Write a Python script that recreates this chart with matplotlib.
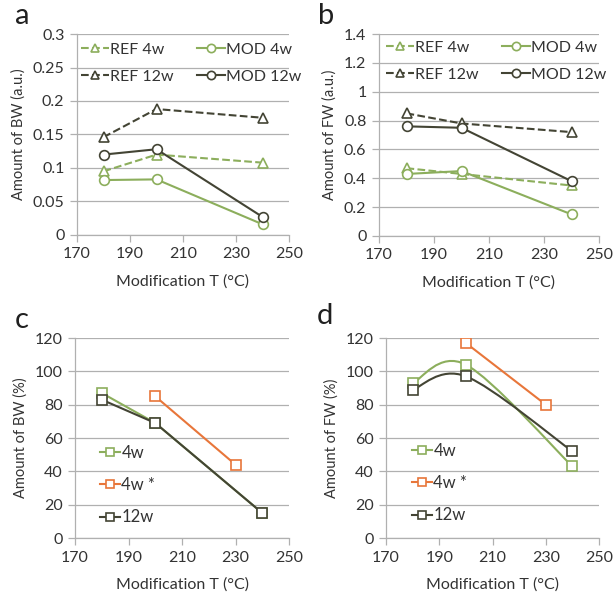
import numpy as np
import matplotlib.pyplot as plt
from matplotlib.path import Path
from matplotlib.patches import PathPatch
from matplotlib.ticker import FuncFormatter

plt.rcParams['font.family'] = ['Lato', 'DejaVu Sans']

# temperatures (°C)
t_main = [180, 200, 240]
t_star = [200, 230]

# a: bound water, a.u.
bw_ref4 = [0.095, 0.120, 0.108]
bw_mod4 = [0.082, 0.083, 0.016]
bw_ref12 = [0.146, 0.188, 0.175]
bw_mod12 = [0.120, 0.128, 0.027]

# b: free water, a.u.
fw_ref4 = [0.47, 0.43, 0.35]
fw_mod4 = [0.43, 0.45, 0.15]
fw_ref12 = [0.85, 0.78, 0.72]
fw_mod12 = [0.76, 0.75, 0.38]

# c: bound water, %
bw_pct4 = [87, 69, 15]
bw_pct4s = [85, 44]
bw_pct12 = [83, 69, 15]

# d: free water, %
fw_pct4 = [93, 104, 43]
fw_pct4s = [117, 80]
fw_pct12 = [89, 97, 52]

GREEN = '#8cae5c'
DARK = '#434434'
ORANGE = '#e8763a'
GRID = '#b0b0b0'
TXT = '#333333'
FS = 11.5

W, H = 613, 595
fig = plt.figure(figsize=(W / 100, H / 100), dpi=100)


def box(left, right, top, bottom):
    return [left / W, 1 - bottom / H, (right - left) / W, (bottom - top) / H]


def style(ax, ymax, ystep, ylabel):
    ax.set_xlim(170, 250)
    ax.set_xticks(np.arange(170, 251, 20))
    ax.set_ylim(0, ymax)
    ax.set_yticks(np.arange(0, ymax + ystep / 2, ystep))
    ax.yaxis.set_major_formatter(FuncFormatter(lambda v, p: '%g' % round(v, 3)))
    ax.grid(axis='y', color=GRID, lw=0.9)
    ax.set_axisbelow(True)
    for s in ['top', 'right']:
        ax.spines[s].set_visible(False)
    for s in ['left', 'bottom']:
        ax.spines[s].set_color(GRID)
        ax.spines[s].set_linewidth(0.9)
    ax.tick_params(direction='out', length=5, width=0.9, color=GRID,
                   labelsize=FS, labelcolor=TXT, pad=4)
    ax.set_xlabel('Modification T (°C)', fontsize=FS, color=TXT, labelpad=9)
    ax.set_ylabel(ylabel, fontsize=10.5, color=TXT, labelpad=5)


def smooth(ax, x, y, color):
    # Catmull-Rom style bezier like a spreadsheet's smoothed line
    pts = np.column_stack([x, y]).astype(float)
    n = len(pts)
    verts = [pts[0]]
    codes = [Path.MOVETO]
    for i in range(n - 1):
        p0 = pts[max(i - 1, 0)]
        p1 = pts[i]
        p2 = pts[i + 1]
        p3 = pts[min(i + 2, n - 1)]
        verts += [p1 + (p2 - p0) / 6, p2 - (p3 - p1) / 6, p2]
        codes += [Path.CURVE4] * 3
    ax.add_patch(PathPatch(Path(verts, codes), fill=False, ec=color, lw=1.5))


mk = dict(mfc='white', mew=1.2)
leg2 = dict(ncol=2, loc='upper left', frameon=False, fontsize=11.5,
            handlelength=1.75, handletextpad=0.05, columnspacing=1.45,
            labelspacing=0.8, labelcolor=TXT, markerscale=0.85, borderaxespad=0)
leg3 = dict(loc='upper left', frameon=False, fontsize=12, handlelength=1.2,
            handletextpad=0.1, labelspacing=0.98, labelcolor=TXT,
            markerscale=0.8, borderaxespad=0)


def four_lines(ax, ref4, mod4, ref12, mod12):
    a1, = ax.plot(t_main, ref4, '--', color=GREEN, marker='^', ms=6.5, lw=1.5, **mk)
    a2, = ax.plot(t_main, mod4, '-', color=GREEN, marker='o', ms=7, lw=1.5, **mk)
    a3, = ax.plot(t_main, ref12, '--', color=DARK, marker='^', ms=6.5, lw=1.5, **mk)
    a4, = ax.plot(t_main, mod12, '-', color=DARK, marker='o', ms=7, lw=1.5, **mk)
    # column-wise fill -> rows read REF 4w / MOD 4w, REF 12w / MOD 12w
    return [a1, a3, a2, a4], ['REF 4w', 'REF 12w', 'MOD 4w', 'MOD 12w']


# a
ax = fig.add_axes(box(77, 289, 34, 235))
hs, ls = four_lines(ax, bw_ref4, bw_mod4, bw_ref12, bw_mod12)
style(ax, 0.3, 0.05, 'Amount of BW (a.u.)')
ax.legend(hs, ls, bbox_to_anchor=(-0.01, 0.99), **leg2)
fig.text(22 / W, 1 - 16 / H, 'a', fontsize=21, color='#202020', va='center', ha='center')

# b
ax = fig.add_axes(box(379, 599, 34, 236))
hs, ls = four_lines(ax, fw_ref4, fw_mod4, fw_ref12, fw_mod12)
style(ax, 1.4, 0.2, 'Amount of FW (a.u.)')
ax.legend(hs, ls, bbox_to_anchor=(0.005, 1.0), **leg2)
fig.text(326 / W, 1 - 16 / H, 'b', fontsize=21, color='#202020', va='center', ha='center')

# c
ax = fig.add_axes(box(75, 289, 338, 538))
c1, = ax.plot(t_main, bw_pct4, '-', color=GREEN, marker='s', ms=7, lw=1.5, **mk)
c2, = ax.plot(t_star, bw_pct4s, '-', color=ORANGE, marker='s', ms=7, lw=1.5, **mk)
c3, = ax.plot(t_main, bw_pct12, '-', color=DARK, marker='s', ms=7, lw=1.5, **mk)
style(ax, 120, 20, 'Amount of BW (%)')
ax.legend([c1, c2, c3], ['4w', '4w *', '12w'], bbox_to_anchor=(0.084, 0.5), **leg3)
fig.text(22 / W, 1 - 320 / H, 'c', fontsize=21, color='#202020', va='center', ha='center')

# d
ax = fig.add_axes(box(386, 599, 338, 538))
smooth(ax, t_main, fw_pct4, GREEN)
smooth(ax, t_main, fw_pct12, DARK)
ax.plot(t_main, fw_pct4, ls='none', color=GREEN, marker='s', ms=7, **mk)
ax.plot(t_star, fw_pct4s, '-', color=ORANGE, marker='s', ms=7, lw=1.5, **mk)
ax.plot(t_main, fw_pct12, ls='none', color=DARK, marker='s', ms=7, **mk)
h4 = plt.Line2D([], [], color=GREEN, marker='s', ms=7, lw=1.5, **mk)
h4s = plt.Line2D([], [], color=ORANGE, marker='s', ms=7, lw=1.5, **mk)
h12 = plt.Line2D([], [], color=DARK, marker='s', ms=7, lw=1.5, **mk)
style(ax, 120, 20, 'Amount of FW (%)')
ax.legend([h4, h4s, h12], ['4w', '4w *', '12w'], bbox_to_anchor=(0.089, 0.51), **leg3)
fig.text(325 / W, 1 - 316 / H, 'd', fontsize=21, color='#202020', va='center', ha='center')

fig.savefig('out.png', dpi=100, facecolor='white')
